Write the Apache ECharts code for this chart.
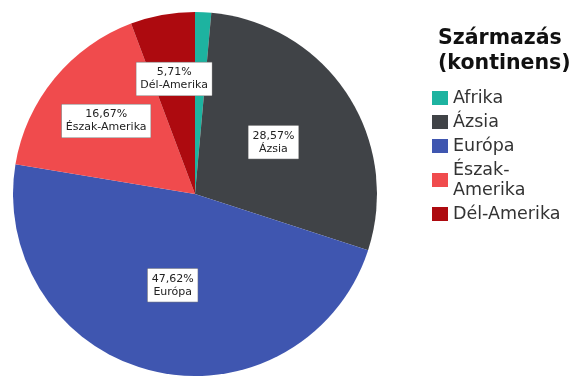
<!DOCTYPE html>
<html>
<head>
<meta charset="utf-8">
<script src="https://cdn.jsdelivr.net/npm/echarts@6/dist/echarts.min.js"></script>
<style>
  html, body { margin: 0; padding: 0; background: #fff; }
  #chart { width: 576px; height: 378px; }
</style>
</head>
<body>
<div id="chart"></div>
<script>
// Origin of people by continent (share, %)
const continents = ['Afrika', 'Ázsia', 'Európa', 'Észak-Amerika', 'Dél-Amerika'];
const shares = [1.43, 28.57, 47.62, 16.67, 5.71];
const colors = ['#1db3a0', '#404347', '#3f56b0', '#f04b4d', '#ad0a0f'];
const legendTitle = 'Származás\n(kontinens)';

// Legend text: long names break after the hyphen
const legendNames = { 'Észak-Amerika': 'Észak-\nAmerika' };
// Slice labels pushed outward along the slice's mid-angle (in px)
const labelPush = { 'Észak-Amerika': 21, 'Dél-Amerika': 23 };

const FONT = '"DejaVu Sans", Verdana, sans-serif';
const fmt = v => v.toFixed(2).replace('.', ',') + '%';

const chart = echarts.init(document.getElementById('chart'), null, { renderer: 'canvas' });

const total = shares.reduce((a, b) => a + b, 0);
const midAngles = [];
let acc = 0;
shares.forEach(v => { midAngles.push((acc + v / 2) / total * 2 * Math.PI); acc += v; });

chart.setOption({
  animation: false,
  color: colors,
  title: {
    text: legendTitle,
    left: 433,
    top: 21,
    padding: 5,
    textStyle: { fontFamily: FONT, fontSize: 20.5, fontWeight: 'bold', color: '#111', lineHeight: 25 }
  },
  legend: {
    orient: 'vertical',
    left: 427,
    top: 83,
    padding: 5,
    itemWidth: 16,
    itemHeight: 14,
    itemGap: 4,
    itemTextGap: 4,
    icon: 'rect',
    data: continents,
    formatter: name => legendNames[name] || name,
    textStyle: { fontFamily: FONT, fontSize: 17.5, color: '#333', lineHeight: 20 }
  },
  series: [{
    type: 'pie',
    center: [195, 194],
    radius: [0, 182],
    startAngle: 90,
    clockwise: true,
    silent: true,
    data: continents.map((c, i) => ({
      name: c,
      value: shares[i],
      label: { show: i !== 0 }
    })),
    label: {
      position: 'inside',
      formatter: p => fmt(p.value) + '\n' + p.name,
      fontFamily: FONT,
      fontSize: 11,
      lineHeight: 13,
      color: '#222',
      backgroundColor: '#fff',
      borderColor: '#777',
      borderWidth: 0.5,
      padding: [4, 4, 3, 4]
    },
    labelLine: { show: false },
    labelLayout: p => {
      const push = labelPush[continents[p.dataIndex]] || 0;
      const a = midAngles[p.dataIndex];
      return { dx: push * Math.sin(a), dy: -push * Math.cos(a) };
    }
  }]
});
</script>
</body>
</html>
